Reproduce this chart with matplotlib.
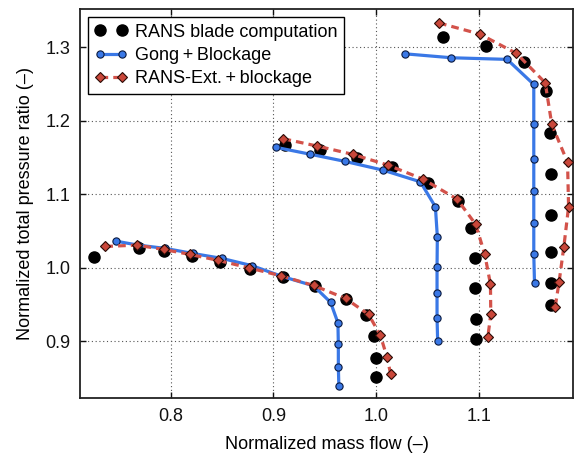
import matplotlib
matplotlib.use("Agg")
import matplotlib.pyplot as plt

plt.rcParams['font.family'] = ['Liberation Sans', 'DejaVu Sans']

# ---- data: RANS blade computation (black dots), three speed lines
rans_low_x = [0.726, 0.769, 0.794, 0.821, 0.848, 0.877, 0.909, 0.940, 0.970, 0.990, 0.998, 0.9995, 1.000]
rans_low_y = [1.015, 1.027, 1.023, 1.016, 1.008, 0.999, 0.988, 0.975, 0.958, 0.936, 0.907, 0.877, 0.852]
rans_mid_x = [0.911, 0.945, 0.981, 1.015, 1.050, 1.079, 1.092, 1.096, 1.096, 1.097, 1.097]
rans_mid_y = [1.167, 1.160, 1.149, 1.137, 1.116, 1.091, 1.054, 1.013, 0.972, 0.931, 0.903]
rans_high_x = [1.065, 1.106, 1.143, 1.165, 1.169, 1.170, 1.170, 1.170, 1.170, 1.170]
rans_high_y = [1.314, 1.302, 1.280, 1.240, 1.184, 1.128, 1.072, 1.022, 0.979, 0.949]

# ---- Gong + Blockage (blue)
gong_low_x = [0.747, 0.768, 0.795, 0.8215, 0.850, 0.879, 0.908, 0.939, 0.9555, 0.9626, 0.963, 0.963, 0.9635]
gong_low_y = [1.0363, 1.031, 1.0264, 1.0196, 1.0128, 1.003, 0.9885, 0.9755, 0.953, 0.9252, 0.8958, 0.8658, 0.8395]
gong_mid_x = [0.9026, 0.935, 0.9694, 1.0063, 1.0427, 1.0573, 1.0592, 1.0589, 1.0589, 1.0589, 1.0595]
gong_mid_y = [1.1638, 1.1547, 1.1448, 1.1329, 1.117, 1.083, 1.0422, 1.0014, 0.9652, 0.932, 0.9007]
gong_high_x = [1.0274, 1.0729, 1.127, 1.1529, 1.1529, 1.1529, 1.1529, 1.1529, 1.1529, 1.1536]
gong_high_y = [1.2911, 1.2857, 1.2835, 1.2494, 1.1951, 1.1485, 1.1044, 1.061, 1.0186, 0.979]

# ---- RANS-Ext. + blockage (red diamonds)
ext_low_x = [0.7366, 0.7674, 0.7933, 0.819, 0.8465, 0.876, 0.9075, 0.939, 0.970, 0.9924, 1.0038, 1.0102, 1.0138]
ext_low_y = [1.0291, 1.0309, 1.025, 1.0182, 1.0101, 1.0, 0.9891, 0.976, 0.9584, 0.9366, 0.9084, 0.879, 0.8558]
ext_mid_x = [0.9097, 0.9425, 0.9771, 1.0112, 1.0452, 1.0783, 1.0965, 1.1053, 1.1108, 1.1111, 1.1082]
ext_mid_y = [1.1755, 1.1656, 1.1543, 1.1397, 1.1207, 1.0935, 1.059, 1.0182, 0.9778, 0.9366, 0.9053]
ext_high_x = [1.0608, 1.1004, 1.1361, 1.164, 1.1704, 1.1857, 1.1867, 1.1821, 1.1775, 1.1737]
ext_high_y = [1.333, 1.3179, 1.2916, 1.2517, 1.1951, 1.1435, 1.083, 1.0286, 0.981, 0.9469]

x_ticks = [0.8, 0.9, 1.0, 1.1]
y_ticks = [0.9, 1.0, 1.1, 1.2, 1.3]
labels = ["RANS blade computation", "Gong\u2009+\u2009Blockage", "RANS-Ext.\u2009+\u2009blockage"]

BLUE = '#3a78e6'
RED = '#c9473a'
RED_LINE = '#d3524a'

fig = plt.figure(figsize=(5.74, 4.57), dpi=100)
ax = fig.add_axes([80/574, 1 - 398/457, (573-80)/574, (398-9.3)/457])

rans_sets = [(rans_low_x, rans_low_y), (rans_mid_x, rans_mid_y), (rans_high_x, rans_high_y)]
gong_sets = [(gong_low_x, gong_low_y), (gong_mid_x, gong_mid_y), (gong_high_x, gong_high_y)]
ext_sets = [(ext_low_x, ext_low_y), (ext_mid_x, ext_mid_y), (ext_high_x, ext_high_y)]

h_rans = h_gong = h_ext = None
for x, y in rans_sets:
    h_rans, = ax.plot(x, y, linestyle='none', marker='o', ms=8.0, mfc='black',
                      mec='black', zorder=3)
for x, y in gong_sets:
    h_gong, = ax.plot(x, y, color=BLUE, lw=2.3, marker='o', ms=5.2, mfc=BLUE,
                      mec='#0a1a40', mew=0.8, zorder=4)
for x, y in ext_sets:
    h_ext, = ax.plot(x, y, color=RED_LINE, lw=2.3, linestyle=(0, (2.4, 1.6)),
                     marker='D', ms=5.6, mfc=RED, mec='#2a0a05', mew=0.8, zorder=5)

ax.set_xlim(0.712, 1.191)
ax.set_ylim(0.823, 1.3516)
ax.set_xticks(x_ticks)
ax.set_xticklabels([f"{v:.1f}" for v in x_ticks])
ax.set_yticks(y_ticks)
ax.set_yticklabels([f"{v:.1f}" for v in y_ticks])

ax.grid(True, linestyle=(0, (1, 2.4)), color='#555555', lw=0.8)
ax.set_axisbelow(True)
ax.tick_params(direction='in', length=4, width=1, top=True, right=True,
               labelsize=13, pad=7, colors='#111111')
for s in ax.spines.values():
    s.set_linewidth(1.3)
    s.set_color('#222222')

ax.set_xlabel("Normalized mass flow (–)", fontsize=13, labelpad=8)
ax.set_ylabel("Normalized total pressure ratio (–)", fontsize=13, labelpad=8)

leg = ax.legend([h_rans, h_gong, h_ext], labels, loc='upper left', numpoints=2,
                fontsize=13, frameon=True, fancybox=False, framealpha=1,
                edgecolor='black', handlelength=1.8, handletextpad=0.45,
                borderpad=0.35, labelspacing=0.35, borderaxespad=0.45)
leg.get_frame().set_linewidth(1.0)

fig.savefig("out.png", dpi=100)
